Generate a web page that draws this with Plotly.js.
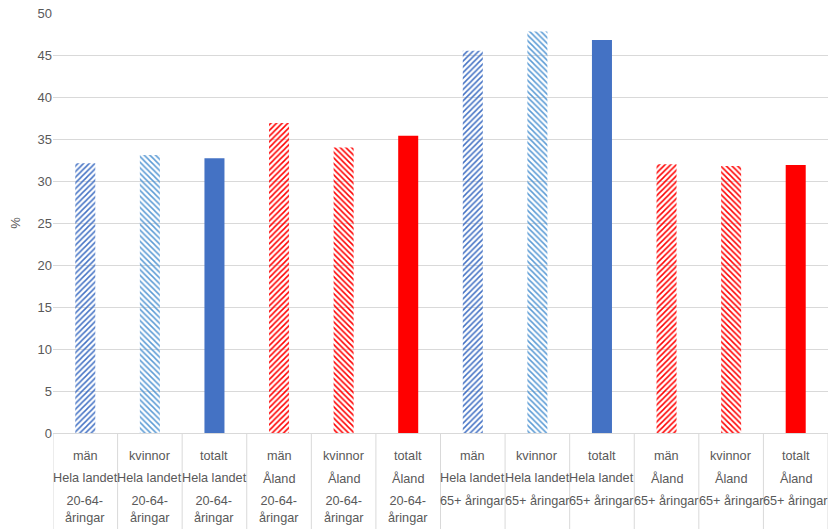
<!DOCTYPE html>
<html>
<head>
<meta charset="utf-8">
<script src="https://cdn.plot.ly/plotly-3.0.1.min.js"></script>
<style>html,body{margin:0;padding:0;background:#fff;}#chart{width:830px;height:529px;}</style>
</head>
<body>
<div id="chart"></div>
<script>
// ---- data ----
const gender = ["män","kvinnor","totalt","män","kvinnor","totalt","män","kvinnor","totalt","män","kvinnor","totalt"];
const region = ["Hela landet","Hela landet","Hela landet","Åland","Åland","Åland","Hela landet","Hela landet","Hela landet","Åland","Åland","Åland"];
const age = ["20-64-<br>åringar","20-64-<br>åringar","20-64-<br>åringar","20-64-<br>åringar","20-64-<br>åringar","20-64-<br>åringar","65+ åringar","65+ åringar","65+ åringar","65+ åringar","65+ åringar","65+ åringar"];
const values = [32.1, 33.1, 32.7, 36.9, 34.0, 35.4, 45.5, 47.8, 46.8, 32.0, 31.8, 31.9];
const yTicks = [0,5,10,15,20,25,30,35,40,45,50];

// ---- styles ----
const colorFor = (g, r) => r === "Åland" ? "#FF0000" : (g === "kvinnor" ? "#5B9BD5" : "#4472C4");
const shapeFor = g => g === "män" ? "/" : (g === "kvinnor" ? "\\" : "");
const textColor = "#595959";
const gridColor = "#D9D9D9";
const font = "Liberation Sans, Arial, sans-serif";

const keys = gender.map((g, i) => i + "|" + g + "|" + region[i]);

const trace = {
  type: "bar",
  x: keys,
  y: values,
  width: 0.31,
  marker: {
    color: gender.map((g, i) => colorFor(g, region[i])),
    line: {width: 0},
    pattern: {
      shape: gender.map(shapeFor),
      size: 4,
      solidity: 0.38,
      fillmode: "replace"
    }
  },
  hoverinfo: "y"
};

const annotations = [];
const rows = [gender, region, age];
const shifts = [-14, -36, -59];
rows.forEach((row, r) => {
  row.forEach((t, i) => {
    annotations.push({
      x: keys[i], xref: "x", y: 0, yref: "paper",
      yanchor: "top", xanchor: "center",
      yshift: shifts[r], text: t, showarrow: false,
      font: {family: font, size: 12.7, color: textColor}
    });
  });
});

const shapes = [];
for (let i = 0; i <= keys.length; i++) {
  shapes.push({
    type: "line", xref: "x", yref: "paper",
    x0: i - 0.5, x1: i - 0.5, y0: 0, y1: -0.3,
    line: {color: gridColor, width: 1}
  });
}

const layout = {
  width: 830, height: 529,
  margin: {l: 53, r: 2, t: 13, b: 96},
  paper_bgcolor: "#fff", plot_bgcolor: "#fff",
  showlegend: false,
  font: {family: font, color: textColor, size: 13},
  bargap: 0.69,
  xaxis: {
    type: "category",
    showticklabels: false,
    showgrid: false,
    zeroline: false,
    showline: true, linecolor: gridColor, linewidth: 1,
    ticks: "",
    range: [-0.5, keys.length - 0.5]
  },
  yaxis: {
    range: [0, 50],
    tickvals: yTicks,
    showgrid: true, gridcolor: gridColor, gridwidth: 1,
    zeroline: false, showline: false,
    ticks: "", ticklen: 0,
    tickfont: {family: font, size: 13, color: textColor},
    title: {text: "%", font: {family: font, size: 13, color: textColor}, standoff: 13}
  },
  annotations: annotations,
  shapes: shapes
};

Plotly.newPlot("chart", [trace], layout, {displayModeBar: false, staticPlot: true});
</script>
</body>
</html>
